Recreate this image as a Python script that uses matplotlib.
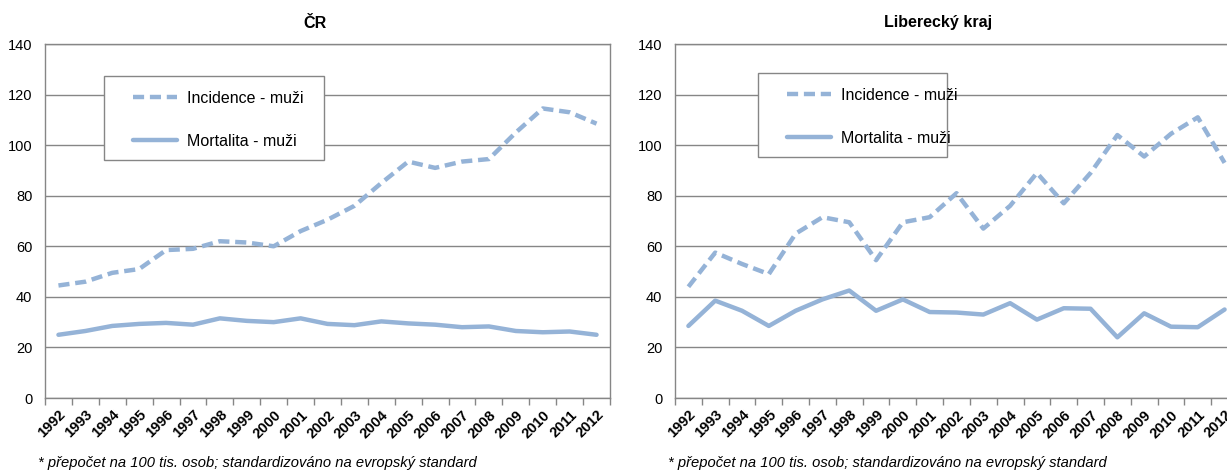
import matplotlib
matplotlib.use("Agg")
import matplotlib.pyplot as plt
from matplotlib.patches import Rectangle

plt.rcParams['font.family'] = ['Liberation Sans', 'DejaVu Sans']

years = [str(y) for y in range(1992, 2013)]

cr_incidence = [44.5, 46, 49.5, 51, 58.5, 59, 62, 61.5, 60, 66, 70.5, 76, 85, 93.5,
                91, 93.5, 94.5, 105, 114.5, 113, 108.5]
cr_mortality = [25, 26.5, 28.5, 29.3, 29.7, 29, 31.5, 30.5, 30, 31.5, 29.3, 28.8,
                30.3, 29.5, 29, 28, 28.3, 26.5, 26, 26.3, 25]

lib_incidence = [44, 57.5, 53, 49, 65, 71.5, 69.5, 54.5, 69.5, 71.5, 81, 67, 76, 89,
                 77, 89, 104, 95.5, 104.5, 111, 93]
lib_mortality = [28.5, 38.5, 34.5, 28.5, 34.5, 39, 42.5, 34.5, 39, 34, 33.8, 33,
                 37.5, 31, 35.5, 35.3, 24, 33.5, 28.2, 28, 35]

titles = ["ČR", "Liberecký kraj"]
series_labels = ["Incidence - muži", "Mortalita - muži"]
footnote = "* přepočet na 100 tis. osob; standardizováno na evropský standard"
yticks = [0, 20, 40, 60, 80, 100, 120, 140]

W, H = 1227, 472
fig = plt.figure(figsize=(W / 100, H / 100), dpi=100)

color = '#95b3d7'
gray = '#868686'

def fx(px):
    return px / W

def fy(py):
    return 1 - py / H

panels = [
    dict(rect=(45, 44, 610, 398), inc=cr_incidence, mort=cr_mortality, title=titles[0],
         title_x=315, legend=(104, 76, 324, 160), foot_x=38),
    dict(rect=(675, 44, 1238, 398), inc=lib_incidence, mort=lib_mortality, title=titles[1],
         title_x=938, legend=(758, 73, 947, 157), foot_x=668),
]

for p in panels:
    x0, y0, x1, y1 = p['rect']
    ax = fig.add_axes([fx(x0), fy(y1), fx(x1 - x0), (y1 - y0) / H])
    xs = list(range(len(years)))
    l_inc, = ax.plot(xs, p['inc'], color=color, lw=3.2, solid_capstyle='round',
                     dash_capstyle='butt', label=series_labels[0], zorder=3)
    l_inc.set_dashes((2.5, 1.3))
    l_mort, = ax.plot(xs, p['mort'], color=color, lw=3.2, solid_capstyle='round',
                      solid_joinstyle='round', label=series_labels[1], zorder=3)
    ax.set_xlim(-0.5, len(years) - 0.5)
    ax.set_ylim(0, 140)
    ax.set_yticks(yticks)
    ax.set_yticklabels([str(v) for v in yticks], fontsize=10.5)
    ax.tick_params(axis='y', length=0, pad=9)
    ax.set_xticks(xs)
    ax.set_xticklabels(years, rotation=45, ha='right', rotation_mode='anchor',
                       fontsize=10.5, fontweight='bold')
    ax.tick_params(axis='x', which='major', length=0, pad=7)
    ax.set_xticks([i - 0.5 for i in range(len(years) + 1)], minor=True)
    ax.tick_params(axis='x', which='minor', length=5, color=gray, width=1)
    ax.grid(axis='y', color=gray, lw=1, zorder=0)
    ax.set_axisbelow(True)
    for s in ax.spines.values():
        s.set_color(gray)
        s.set_linewidth(1)

    # legend box
    lx0, ly0, lx1, ly1 = p['legend']
    rect = Rectangle((fx(lx0), fy(ly1)), fx(lx1 - lx0), (ly1 - ly0) / H,
                     transform=fig.transFigure, facecolor='white', edgecolor=gray,
                     lw=1, zorder=5)
    fig.add_artist(rect)
    leg = fig.legend(handles=[l_inc, l_mort], labels=series_labels,
                     loc='upper left',
                     bbox_to_anchor=(fx(lx0 + 16), fy(ly0 + 2)),
                     frameon=False, fontsize=11.5, handlelength=2.75,
                     handletextpad=0.65, labelspacing=1.74, borderpad=0.3)
    leg.set_zorder(6)

    fig.text(fx(p['title_x']), fy(23), p['title'], ha='center', va='center',
             fontsize=11.5, fontweight='bold')
    fig.text(fx(p['foot_x']), fy(463), footnote, ha='left', va='center',
             fontsize=10.6, style='italic')

fig.savefig('out.png', dpi=100)
